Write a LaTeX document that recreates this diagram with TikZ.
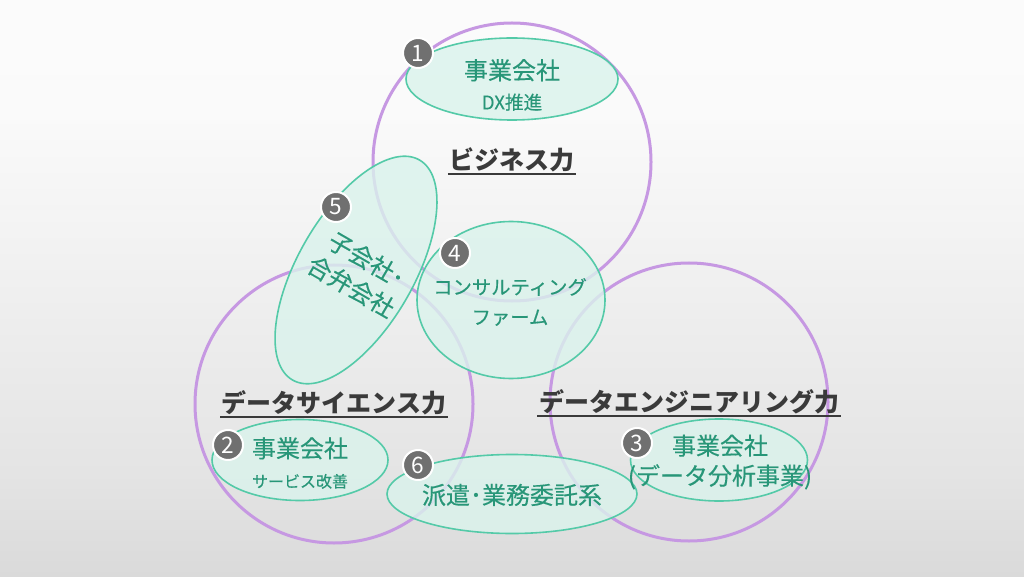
\documentclass[tikz,border=0pt]{standalone}
\usepackage{fontspec}
\setmainfont{Noto Sans CJK JP}
\newfontfamily\inkfont{Noto Sans CJK JP}[FakeBold=0.3]
\usepackage{tikz}
\usetikzlibrary{shapes.geometric}

\definecolor{ringPurple}{RGB}{198,152,226}
\definecolor{bubbleLine}{RGB}{84,202,168}
\definecolor{bubbleFill}{RGB}{218,243,236}
\definecolor{bubbleInk}{RGB}{40,150,120}
\definecolor{badgeGray}{RGB}{112,112,112}
\definecolor{labelInk}{RGB}{58,58,58}
\definecolor{bgBottom}{RGB}{190,190,190}
\definecolor{bgMid}{RGB}{228,228,228}
\definecolor{bgTop}{RGB}{250,250,250}
\pgfdeclareverticalshading{bgShade}{100bp}{color(0bp)=(bgBottom); color(34bp)=(bgMid); color(65bp)=(bgTop); color(100bp)=(white)}

\begin{document}
\begin{tikzpicture}
      [x=0.75pt, y=-0.75pt,
       powerCircle/.style={circle,draw=ringPurple,line width=2.25pt,minimum size=208.5pt,inner sep=0pt},
       bubble/.style={ellipse,draw=bubbleLine,line width=1.2pt,fill=bubbleFill,fill opacity=0.8,inner sep=0pt},
       bubbleText/.style={text=bubbleInk,align=center,inner sep=0pt,font=\inkfont\fontsize{18}{22.5}\selectfont},
       badge/.style={circle,fill=badgeGray,draw=white,line width=1.5pt,minimum size=22.5pt,inner sep=0pt,text=white,font=\fontsize{17}{17}\selectfont},
       skillLabel/.style={text=labelInk,inner sep=1pt,font=\bfseries\fontsize{18.75}{22}\selectfont}]

      \fill[shading=bgShade] (0,0) rectangle (1024,577);
      \useasboundingbox (0,0) rectangle (1024,577);

      % skill circles
      \node[powerCircle] (biz) at (512,162) {};
      \node[powerCircle] (sci) at (334,404) {};
      \node[powerCircle] (eng) at (689,402) {};

      % bubbles
      \node[bubble,minimum width=159pt,minimum height=61.5pt] (e1) at (512,79) {};
      \node[bubble,minimum width=132pt,minimum height=60.75pt] (e2) at (300,460) {};
      \node[bubble,minimum width=132.75pt,minimum height=61.5pt] (e3) at (719,460) {};
      \node[bubble,minimum width=141pt,minimum height=117.75pt] (e4) at (511,300) {};
      \node[bubble,minimum width=87pt,minimum height=190.5pt,rotate=-30] (e5) at (356,270) {};
      \node[bubble,minimum width=187.5pt,minimum height=59.25pt] (e6) at (512,494) {};

      % skill labels
      \node[skillLabel] (lBiz) at (512,160) {ビジネス力};
      \node[skillLabel] (lSci) at (334,403) {データサイエンス力};
      \node[skillLabel] (lEng) at (689,402) {データエンジニアリング力};
      \foreach \lbl in {lBiz,lSci,lEng}
      \draw[labelInk,line width=1.5pt] (\lbl.south west) -- (\lbl.south east);

      % bubble texts
      \node[bubbleText] (t1) at (512,85) {事業会社\\{\fontsize{14}{22.5}\selectfont DX推進}};
      \node[bubbleText] (t2) at (300,463) {事業会社\\{\fontsize{12}{22.5}\selectfont サービス改善}};
      \node[bubbleText] (t3) at (720,462) {事業会社\\(データ分析事業)};
      \node[bubbleText,font=\inkfont\fontsize{14.5}{22.5}\selectfont] (t4) at (510,302) {コンサルティング\\ファーム};
      \node[bubbleText,rotate=-30,font=\inkfont\fontsize{18}{23.5}\selectfont] (t5) at (359,273) {子会社･\\合弁会社};
      \node[bubbleText] (t6) at (512,495) {派遣･業務委託系};

      % number badges
      \foreach \n/\x/\y in {1/418/53,2/228/445,3/637/443,4/455/253,5/336/207,6/418/465}
      \node[badge] (b\n) at (\x,\y) {\n};
    \end{tikzpicture}
\end{document}
